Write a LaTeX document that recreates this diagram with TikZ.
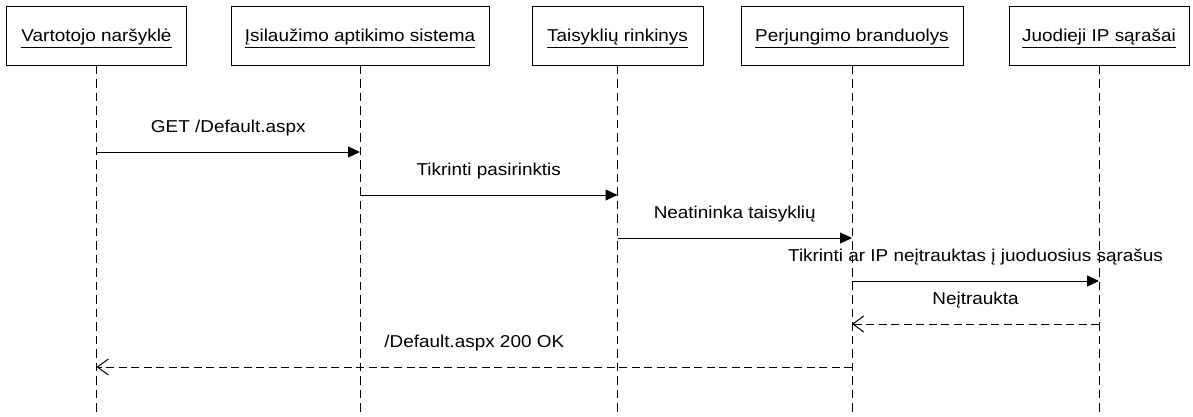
\documentclass[tikz,border=0pt]{standalone}
\usepackage{fontspec}
\usepackage{graphicx}
\setmainfont{Liberation Sans}
\usetikzlibrary{arrows.meta}
% slightly widened text face
\newcommand{\wtext}[1]{\scalebox{1.1}[1]{#1}}
\begin{document}
\begin{tikzpicture}[x=1bp, y=-1bp,
  actor/.style={draw, line width=1bp, minimum height=59bp, inner sep=0pt,
    text height=12.5bp, text depth=0bp, font=\fontsize{17.2bp}{20bp}\selectfont},
  life/.style={line width=1bp, dash pattern=on 8.5bp off 5bp},
  call/.style={line width=1bp, -{Triangle[length=12bp, width=11bp]}},
  reply/.style={line width=1bp, dash pattern=on 8bp off 4.5bp,
    -{Straight Barb[length=11bp, width=16bp, line width=1bp]}},
  lbl/.style={midway, anchor=base, yshift=19.5bp, inner sep=0pt,
    font=\fontsize{17.2bp}{20bp}\selectfont}]
\useasboundingbox (0,0) rectangle (1193,416);

% participants
\node[actor, minimum width=179bp] (h1) at (96.5,35.5) {\wtext{\underline{Vartotojo naršyklė}}};
\node[actor, minimum width=258bp] (h2) at (360,35.5) {\wtext{\underline{Įsilaužimo aptikimo sistema}}};
\node[actor, minimum width=171bp] (h3) at (617.5,35.5) {\wtext{\underline{Taisyklių rinkinys}}};
\node[actor, minimum width=222bp] (h4) at (852,35.5) {\wtext{\underline{Perjungimo branduolys}}};
\node[actor, minimum width=180bp] (h5) at (1099,35.5) {\wtext{\underline{Juodieji IP sąrašai}}};

% lifeline ends
\foreach \i in {1,...,5} {
  \coordinate (e\i) at (h\i.south |- 0,416);
  \draw[life] (h\i.south) -- (e\i);
}

% messages
\draw[call] (h1.south |- 0,152) -- (h2.south |- 0,152)
  node[lbl] {\wtext{GET /Default.aspx}};
\draw[call] (h2.south |- 0,195) -- (h3.south |- 0,195)
  node[lbl] {\wtext{Tikrinti pasirinktis}};
\draw[call] (h3.south |- 0,238) -- (h4.south |- 0,238)
  node[lbl] {\wtext{Neatininka taisyklių}};
\draw[call] (h4.south |- 0,281) -- (h5.south |- 0,281)
  node[lbl] {\wtext{Tikrinti ar IP neįtrauktas į juoduosius sąrašus}};
\draw[reply] (h5.south |- 0,324) -- (h4.south |- 0,324)
  node[lbl] {\wtext{Neįtraukta}};
\draw[reply] (h4.south |- 0,367) -- (h1.south |- 0,367)
  node[lbl] {\wtext{/Default.aspx 200 OK}};
\end{tikzpicture}
\end{document}
